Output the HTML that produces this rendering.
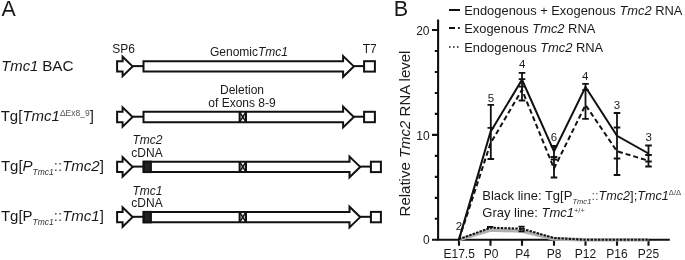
<!DOCTYPE html>
<html><head><meta charset="utf-8">
<style>
html,body{margin:0;padding:0;background:#fff;}
svg{display:block;will-change:transform;font-family:"Liberation Sans",sans-serif;}
text{fill:#1a1a1a;}
.i{font-style:italic;}
</style></head>
<body>
<svg width="685" height="260" viewBox="0 0 685 260">
<!-- Panel A -->
<text x="1.6" y="15.9" font-size="21.4">A</text>

<!-- row labels -->
<text x="1.2" y="71" font-size="15.3"><tspan class="i" textLength="37.2" lengthAdjust="spacingAndGlyphs">Tmc1</tspan><tspan dx="-0.5"> BAC</tspan></text>
<text x="0.7" y="121" font-size="15">Tg[<tspan class="i">Tmc1</tspan><tspan font-size="8.5" dy="-5" fill="#555">ΔEx8_9</tspan><tspan dy="5">]</tspan></text>
<text x="0.9" y="171" font-size="15">Tg[<tspan class="i">P</tspan><tspan class="i" font-size="8.5" dy="4" fill="#333">Tmc1</tspan><tspan dy="-4" fill="#444">::</tspan><tspan class="i">Tmc2</tspan>]</text>
<text x="0.9" y="221" font-size="15">Tg[P<tspan class="i" font-size="8.5" dy="4" fill="#333">Tmc1</tspan><tspan dy="-4" fill="#444">::</tspan><tspan class="i">Tmc1</tspan>]</text>

<!-- construct labels -->
<g font-size="12" text-anchor="middle">
<text x="123.5" y="52.7">SP6</text>
<text x="369.8" y="52.5">T7</text>
<text x="249" y="56.4">Genomic<tspan class="i">Tmc1</tspan></text>
<text x="242" y="93.6">Deletion</text>
<text x="242" y="106.6">of Exons 8-9</text>
<text x="147.5" y="143.9" class="i">Tmc2</text>
<text x="147" y="157">cDNA</text>
<text x="147.5" y="194.5" class="i">Tmc1</text>
<text x="147" y="207.3">cDNA</text>
</g>

<!-- constructs -->
<g fill="#fff" stroke="#111" stroke-width="2" stroke-linejoin="miter" stroke-miterlimit="10">
<polygon points="117.1,61.20 122.6,61.20 122.6,56.70 132.6,66.40 122.6,76.10 122.6,71.60 117.1,71.60"/>
<line x1="132.6" y1="66.10" x2="143.5" y2="66.10"/>
<polygon points="143.5,61.20 343.1,61.20 343.1,56.00 353.8,66.40 343.1,76.80 343.1,71.60 143.5,71.60"/>
<line x1="353.8" y1="66.10" x2="364.1" y2="66.10"/>
<rect x="364.1" y="61.20" width="10.8" height="10.4"/>
<polygon points="117.1,111.80 122.6,111.80 122.6,107.30 132.6,117.00 122.6,126.70 122.6,122.20 117.1,122.20"/>
<line x1="132.6" y1="116.70" x2="143.5" y2="116.70"/>
<polygon points="143.5,111.80 343.1,111.80 343.1,106.60 353.8,117.00 343.1,127.40 343.1,122.20 143.5,122.20"/>
<line x1="353.8" y1="116.70" x2="364.1" y2="116.70"/>
<rect x="364.1" y="111.80" width="10.8" height="10.4"/>
<polygon points="239.6,111.80 242.8,117.00 239.6,122.20" fill="#c8c8c8" stroke="none"/>
<polygon points="246,111.80 242.8,117.00 246,122.20" fill="#c8c8c8" stroke="none"/>
<path d="M239.6,111.80 L246,122.20 M246,111.80 L239.6,122.20" stroke-width="1.5" fill="none"/>
<path d="M239.6,111.80 V122.20 M246,111.80 V122.20" stroke-width="2" fill="none"/>
<polygon points="117.1,161.70 122.6,161.70 122.6,157.20 132.6,166.90 122.6,176.60 122.6,172.10 117.1,172.10"/>
<line x1="132.6" y1="166.60" x2="143.5" y2="166.60"/>
<polygon points="143.5,161.70 349.5,161.70 349.5,156.50 360.2,166.90 349.5,177.30 349.5,172.10 143.5,172.10"/>
<line x1="360.2" y1="166.60" x2="370.9" y2="166.60"/>
<rect x="370.9" y="161.70" width="10.0" height="10.4"/>
<rect x="143.8" y="161.70" width="7.1" height="10.4" fill="#222"/>
<polygon points="239.6,161.70 242.8,166.90 239.6,172.10" fill="#c8c8c8" stroke="none"/>
<polygon points="246,161.70 242.8,166.90 246,172.10" fill="#c8c8c8" stroke="none"/>
<path d="M239.6,161.70 L246,172.10 M246,161.70 L239.6,172.10" stroke-width="1.5" fill="none"/>
<path d="M239.6,161.70 V172.10 M246,161.70 V172.10" stroke-width="2" fill="none"/>
<polygon points="117.1,211.90 122.6,211.90 122.6,207.40 132.6,217.10 122.6,226.80 122.6,222.30 117.1,222.30"/>
<line x1="132.6" y1="216.80" x2="143.5" y2="216.80"/>
<polygon points="143.5,211.90 349.5,211.90 349.5,206.70 360.2,217.10 349.5,227.50 349.5,222.30 143.5,222.30"/>
<line x1="360.2" y1="216.80" x2="370.9" y2="216.80"/>
<rect x="370.9" y="211.90" width="10.0" height="10.4"/>
<rect x="143.8" y="211.90" width="7.1" height="10.4" fill="#222"/>
<polygon points="239.6,211.90 242.8,217.10 239.6,222.30" fill="#c8c8c8" stroke="none"/>
<polygon points="246,211.90 242.8,217.10 246,222.30" fill="#c8c8c8" stroke="none"/>
<path d="M239.6,211.90 L246,222.30 M246,211.90 L239.6,222.30" stroke-width="1.5" fill="none"/>
<path d="M239.6,211.90 V222.30 M246,211.90 V222.30" stroke-width="2" fill="none"/>
</g>

<!-- Panel B -->
<text x="393.7" y="16" font-size="21.6">B</text>

<!-- legend -->
<g stroke="#111" stroke-width="2">
  <line x1="449" y1="10" x2="460" y2="10"/>
  <line x1="449" y1="28" x2="455" y2="28"/>
  <line x1="458" y1="28" x2="459.8" y2="28"/>
  <line x1="449" y1="47" x2="459" y2="47" stroke-dasharray="1.5 2.5" stroke-width="1.6"/>
</g>
<g font-size="12.9">
<text x="464.2" y="15">Endogenous + Exogenous <tspan class="i">Tmc2</tspan> RNA</text>
<text x="464.2" y="33.2">Exogenous <tspan class="i">Tmc2</tspan> RNA</text>
<text x="464.2" y="51.9">Endogenous <tspan class="i">Tmc2</tspan> RNA</text>
</g>

<!-- y title -->
<text transform="translate(410,133.5) rotate(-90)" text-anchor="middle" font-size="15">Relative <tspan class="i">Tmc2</tspan> RNA level</text>

<!-- axes -->
<g stroke="#111" stroke-width="2.1" fill="none">
  <path d="M438.1,19.5 V239.8 H669.8"/>
  <path d="M432,30 H438 M432,134.9 H438 M432,239.8 H438"/>
  <path d="M434.8,51 H438 M434.8,72 H438 M434.8,93 H438 M434.8,113.9 H438 M434.8,155.9 H438 M434.8,176.9 H438 M434.8,197.9 H438 M434.8,218.8 H438"/>
  <path d="M459,239.8 V245.7 M490.5,239.8 V245.7 M522,239.8 V245.7 M554,239.8 V245.7 M585.5,239.8 V245.7 M617,239.8 V245.7 M648.5,239.8 V245.7"/>
</g>
<g font-size="12" text-anchor="end">
<text x="429.5" y="35">20</text>
<text x="429.6" y="139.9">10</text>
<text x="429.6" y="244.2">0</text>
</g>
<g font-size="12" text-anchor="middle">
<text x="459.2" y="258">E17.5</text>
<text x="491" y="258">P0</text>
<text x="522.5" y="258">P4</text>
<text x="554" y="258">P8</text>
<text x="585.5" y="258">P12</text>
<text x="617" y="258">P16</text>
<text x="648.5" y="258">P25</text>
</g>

<!-- gray series -->
<polyline points="459,239.6 490.5,230.0 522,231.0 554,238.9 585.5,239.7 617,239.7 648.5,239.7" fill="none" stroke="#b0b0b0" stroke-width="3.6" stroke-linejoin="round"/>
<!-- dotted series -->
<polyline points="459,239.2 490.5,227.7 522,228.7 554,238.0 585.5,239.8 617,239.8 648.5,239.8" fill="none" stroke="#111" stroke-width="2.1" stroke-dasharray="2.4 1.25"/>
<!-- black series -->
<polyline points="459,239.4 490.5,132 522,79.75 554,151.5 585.5,87 617,135.75 648.5,153.5" fill="none" stroke="#111" stroke-width="2" stroke-linejoin="miter"/>
<!-- dashed series -->
<polyline points="459,239.4 490.5,143.4 522,89.8 554,168.5 585.5,105 617,151.25 648.5,160.75" fill="none" stroke="#111" stroke-width="2" stroke-dasharray="5 3"/>
<!-- error bars -->
<g stroke="#111" stroke-width="1.8">
  <path d="M490.8,104.9 V159.1 M487.5,104.9 H494.1 M487.5,159.1 H494.1 M487.5,127.8 H494.1 M487.5,159 H494.1"/>
  <path d="M522,72.8 V100.5 M518.7,72.8 H525.3 M518.7,86.7 H525.3 M518.7,79.1 H525.3 M518.7,100.5 H525.3"/>
  <path d="M554,146 V177.5 M550.7,146 H557.3 M550.7,157 H557.3 M550.7,159.5 H557.3 M550.7,177.5 H557.3"/>
  <path d="M585.5,83.8 V118.8 M582.2,83.8 H588.8 M582.2,90.2 H588.8 M582.2,118.8 H588.8"/>
  <path d="M617,113 V175 M613.7,113 H620.3 M613.7,158.5 H620.3 M613.7,127.5 H620.3 M613.7,175 H620.3"/>
  <path d="M648.5,145.5 V166.5 M645.2,145.5 H651.8 M645.2,161.5 H651.8 M645.2,155 H651.8 M645.2,166.5 H651.8"/>
  <path d="M488,226.8 V229.3 M487,226.8 H493.3 M518.5,226.7 H524.6 M518.5,231.3 H524.6"/>
  <path d="M519.8,227.5 L523.6,230.5 M523.6,227.5 L519.8,230.5" stroke-width="1.1"/>
</g>

<!-- n labels -->
<g font-size="11.5" text-anchor="middle">
<text x="459" y="229.5">2</text>
<text x="491" y="102.2">5</text>
<text x="522.3" y="68.2">4</text>
<text x="554" y="141.2">6</text>
<text x="585.3" y="80.4">4</text>
<text x="617" y="108.5">3</text>
<text x="648.8" y="141">3</text>
</g>

<!-- annotation -->
<g font-size="13">
<text x="482.3" y="199.6">Black line: Tg[P<tspan class="i" font-size="7.6" dy="4.4" fill="#333">Tmc1</tspan><tspan dy="-4.4" fill="#555">::</tspan><tspan class="i" font-size="12.6">Tmc2</tspan>];<tspan class="i" font-size="12.6">Tmc1</tspan><tspan font-size="7.6" dy="-4.6" fill="#444">Δ/Δ</tspan></text>
<text x="482.3" y="216.7">Gray line: <tspan class="i">Tmc1</tspan><tspan font-size="7.4" dy="-4.2" fill="#444">+/+</tspan></text>
</g>
</svg>
</body></html>
